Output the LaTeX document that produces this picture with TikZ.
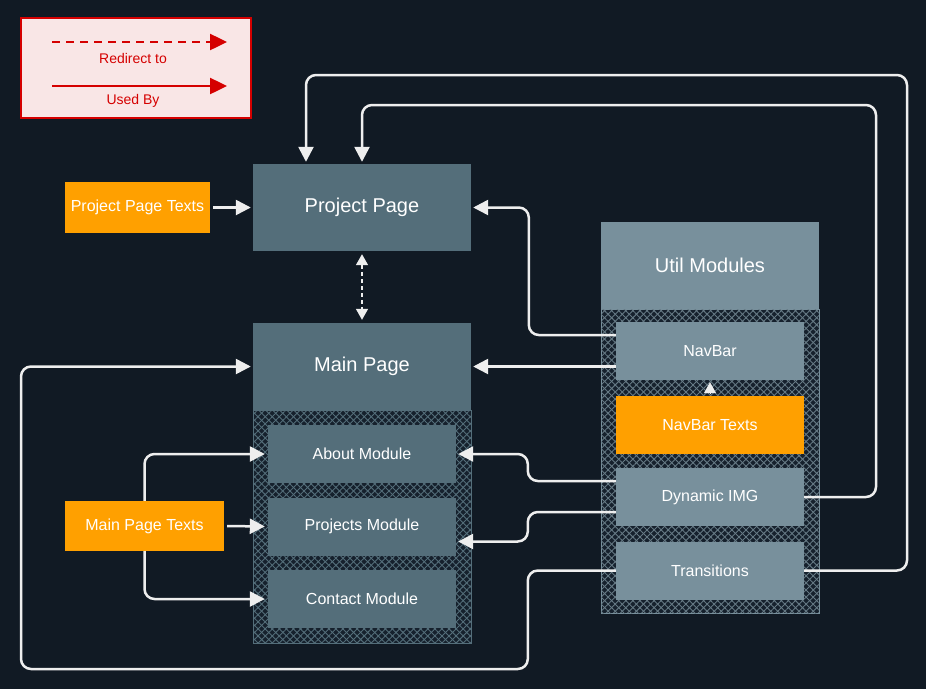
\documentclass[tikz,border=0pt]{standalone}
\usepackage{fontspec}
\setmainfont{Liberation Sans}
\usetikzlibrary{arrows.meta,patterns.meta,calc}
\definecolor{bg}{HTML}{111A24}
\definecolor{slateD}{HTML}{546E7A}
\definecolor{slateL}{HTML}{78909C}
\definecolor{orng}{HTML}{FFA000}
\definecolor{lineW}{HTML}{EEEEEE}
\definecolor{legred}{HTML}{D50000}
\definecolor{legfill}{HTML}{F9E6E6}
\definecolor{hatchbg}{HTML}{16212D}
\tikzset{
  bigbox/.style={minimum width=218pt, minimum height=87pt, inner sep=0pt, text=white, font=\fontsize{20}{24}\selectfont},
  modbox/.style={minimum width=188pt, minimum height=58pt, inner sep=0pt, text=white, font=\fontsize{16}{19}\selectfont},
  txtbox/.style={fill=orng, inner sep=0pt, minimum height=51pt, text=white, font=\fontsize{16}{19}\selectfont},
  hatchD/.style={draw=slateD, line width=1pt, minimum width=218pt, inner sep=0pt,
    preaction={fill=hatchbg}, pattern={Lines[angle=45,distance=5pt,line width=0.9pt]}, pattern color=slateD,
    postaction={pattern={Lines[angle=-45,distance=5pt,line width=0.9pt]}, pattern color=slateD}},
  hatchL/.style={draw=slateL, line width=1pt, minimum width=218pt, inner sep=0pt,
    preaction={fill=hatchbg}, pattern={Lines[angle=45,distance=5pt,line width=0.9pt]}, pattern color=slateL!85!black,
    postaction={pattern={Lines[angle=-45,distance=5pt,line width=0.9pt]}, pattern color=slateL!85!black}},
  conn/.style={draw=lineW, line width=2.5pt, rounded corners=10pt, -{Triangle[length=15pt,width=15pt]}, shorten >=2pt},
  legtext/.style={text=legred, font=\fontsize{14}{17}\selectfont, inner sep=0pt}
}
\begin{document}
\begin{tikzpicture}[x=1pt,y=-1pt]
\useasboundingbox (0,0) rectangle (926,689);
\fill[bg] (0,0) rectangle (926,689);

% legend
\node (legend) [draw=legred, line width=2.5pt, fill=legfill, minimum width=230pt, minimum height=100pt, inner sep=0pt] at (136,68) {};
\coordinate (l1s) at (52,42);
\coordinate (l1e) at (227,42);
\coordinate (l2s) at (52,86);
\coordinate (l2e) at (227,86);
\draw[legred, line width=2.5pt, dash pattern=on 8pt off 6pt, -{Triangle[length=17pt,width=16pt]}] (l1s) -- (l1e);
\draw[legred, line width=2.5pt, -{Triangle[length=17pt,width=16pt]}] (l2s) -- (l2e);
\node (lt1) [legtext] at (133,58) {Redirect to};
\node (lt2) [legtext] at (133,101) {Used By};

% hatched containers
\node (mh) [hatchD, minimum height=233pt] at (362,526.5) {};
\node (uh) [hatchL, minimum height=304pt] at (710,461) {};

% main column
\node (pp) [bigbox, fill=slateD] at (362,207.5) {Project Page};
\node (mp) [bigbox, fill=slateD] at (362,366.5) {Main Page};
\node (about) [modbox, fill=slateD] at (362,454) {About Module};
\node (projm) [modbox, fill=slateD] at (362,526.5) {Projects Module};
\node (contact) [modbox, fill=slateD] at (362,599) {Contact Module};

% texts
\node (ppt) [txtbox, minimum width=145pt] at (137.5,207.5) {Project Page Texts};
\node (mpt) [txtbox, minimum width=159pt, minimum height=50pt] at (144.5,526) {Main Page Texts};

% util column
\node (util) [bigbox, fill=slateL] at (710,265.5) {Util Modules};
\node (nav) [modbox, fill=slateL] at (710,351) {NavBar};
\node (navt) [modbox, fill=orng] at (710,425) {NavBar Texts};
\node (dyn) [modbox, fill=slateL] at (710,497) {Dynamic IMG};
\node (trans) [modbox, fill=slateL] at (710,570.5) {Transitions};

% connectors
\draw[conn, shorten <=3pt] (ppt.east) -- (pp.west);
\draw[conn] ([yshift=16pt]nav.west) -- ++(-87,0) |- (pp.east);
\draw[conn] (nav.west |- mp.east) -- (mp.east);
\draw[conn] ([yshift=16pt]dyn.west) -- ++(-88,0) |- (about.east);
\draw[conn] ([yshift=-15pt]dyn.west) -- ++(-88,0) |- ([yshift=-15pt]projm.east);
\coordinate (lb) at (21,669);
\draw[conn] (trans.west) -- ++(-88,0) |- (lb) |- (mp.west);
\coordinate (r1) at (876,105);
\coordinate (r2) at (907,75);
\draw[conn] (dyn.east) -| (r1) -| (pp.north);
\draw[conn] (trans.east) -| (r2) -| ([xshift=-56pt]pp.north);
\draw[draw=lineW, line width=1.5pt, dash pattern=on 4pt off 3pt, {Triangle[length=11pt,width=12pt]}-{Triangle[length=11pt,width=12pt]}, shorten <=3pt, shorten >=3pt] (pp.south) -- (mp.north);
\draw[draw=lineW, line width=1pt, -{Triangle[length=11pt,width=12pt]}, shorten >=2pt, shorten <=3pt] (navt.north) -- (nav.south);
\draw[conn, shorten <=3pt, shorten >=3pt] (mpt.east) -- (projm.west);
\draw[conn, shorten >=3pt] (mpt.north) |- (about.west);
\draw[conn, shorten >=3pt] (mpt.south) |- (contact.west);
\end{tikzpicture}
\end{document}
